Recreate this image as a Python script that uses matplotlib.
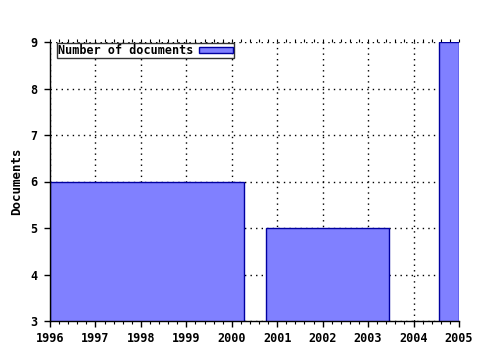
import matplotlib.pyplot as plt
from matplotlib.ticker import MultipleLocator

bar_start = [1996.0, 2000.75, 2004.56]
bar_end = [2000.26, 2003.46, 2005.0]
documents = [6, 5, 9]
years = list(range(1996, 2006))
levels = [3, 4, 5, 6, 7, 8, 9]

plt.rcParams["font.family"] = "DejaVu Sans Mono"
plt.rcParams["font.weight"] = "bold"
plt.rcParams["font.size"] = 8.5

fig = plt.figure(figsize=(4.8, 3.5), dpi=100)
ax = fig.add_axes([50 / 480, 29 / 350, 409 / 480, 279 / 350])

widths = [e - s for s, e in zip(bar_start, bar_end)]
ax.bar(bar_start, documents, width=widths, align="edge", bottom=0,
       color="#8080ff", edgecolor="#0000a0", linewidth=1,
       label="Number of documents", zorder=2)

ax.set_xlim(1996, 2005)
ax.set_ylim(3, 9)
ax.set_xticks(years)
ax.set_yticks(levels)
ax.xaxis.set_minor_locator(MultipleLocator(0.2))
ax.grid(True, which="major", color="black", linestyle=(0, (1, 3)), linewidth=1, zorder=1)
ax.set_axisbelow(True)

for side in ("top", "right"):
    ax.spines[side].set_visible(False)
ax.spines["left"].set_linewidth(1)
ax.spines["bottom"].set_linewidth(1)
ax.tick_params(axis="both", which="major", length=4, width=1, direction="out")
ax.tick_params(axis="x", which="major", pad=4)
ax.tick_params(axis="y", which="major", pad=5)
ax.tick_params(axis="x", which="minor", length=2, width=0.8, direction="out")

# small ticks along the top edge
top = ax.secondary_xaxis("top")
top.set_xticks(years)
top.xaxis.set_minor_locator(MultipleLocator(0.2))
top.tick_params(which="both", length=2, width=0.8, direction="out", labeltop=False)
top.spines["top"].set_visible(False)

ax.set_ylabel("Documents", fontweight="bold", labelpad=5, fontsize=9)

leg = ax.legend(loc="upper left", bbox_to_anchor=(7 / 409, 1 - 1 / 279), frameon=True,
                fancybox=False, borderpad=0.1, handlelength=2.8, handleheight=0.45,
                handletextpad=0.5, markerfirst=False, borderaxespad=0)
leg.get_frame().set_edgecolor("black")
leg.get_frame().set_linewidth(1)

fig.savefig("out.png", dpi=100)
